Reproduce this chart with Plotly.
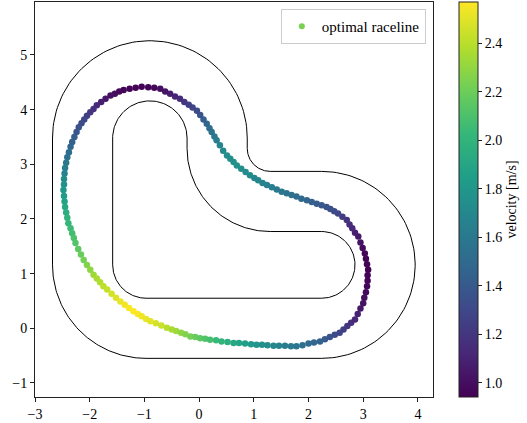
import numpy as np
import plotly.graph_objects as go

# ---------------- data: optimal raceline ----------------
raceline_x = [
    -1.05, -1.16, -1.27, -1.38, -1.46, -1.54, -1.62, -1.71, -1.79, -1.87,
    -1.93, -1.99, -2.05, -2.10, -2.15, -2.20, -2.24, -2.28, -2.32, -2.35,
    -2.38, -2.41, -2.43, -2.45, -2.46, -2.47, -2.47, -2.48, -2.47, -2.46,
    -2.45, -2.43, -2.41, -2.39, -2.35, -2.32, -2.29, -2.26, -2.21, -2.16,
    -2.11, -2.05, -1.99, -1.93, -1.87, -1.81, -1.75, -1.68, -1.60, -1.52,
    -1.44, -1.36, -1.28, -1.20, -1.12, -1.05, -0.97, -0.89, -0.79, -0.69,
    -0.59, -0.50, -0.42, -0.33, -0.25, -0.16, -0.07, 0.02, 0.11, 0.20,
    0.31, 0.41, 0.52, 0.63, 0.73, 0.84, 0.95, 1.05, 1.15, 1.25,
    1.36, 1.46, 1.57, 1.68, 1.78, 1.89, 2.00, 2.10, 2.21, 2.30,
    2.39, 2.48, 2.57, 2.64, 2.71, 2.78, 2.85, 2.90, 2.95, 3.00,
    3.02, 3.05, 3.07, 3.08, 3.08, 3.09, 3.07, 3.05, 3.03, 2.99,
    2.95, 2.91, 2.85, 2.80, 2.75, 2.70, 2.62, 2.54, 2.47, 2.40,
    2.33, 2.24, 2.15, 2.06, 1.97, 1.87, 1.78, 1.69, 1.60, 1.51,
    1.42, 1.33, 1.24, 1.16, 1.08, 1.01, 0.93, 0.85, 0.77, 0.69,
    0.63, 0.57, 0.51, 0.44, 0.38, 0.32, 0.28, 0.23, 0.19, 0.14,
    0.08, 0.02, -0.04, -0.12, -0.19, -0.27, -0.35, -0.44, -0.53, -0.62,
    -0.71, -0.82, -0.93,
]
raceline_y = [
    4.42, 4.40, 4.38, 4.36, 4.33, 4.29, 4.26, 4.20, 4.14, 4.08,
    4.01, 3.95, 3.89, 3.82, 3.75, 3.68, 3.59, 3.50, 3.41, 3.32,
    3.22, 3.13, 3.03, 2.93, 2.83, 2.73, 2.63, 2.53, 2.42, 2.32,
    2.22, 2.12, 2.02, 1.92, 1.83, 1.74, 1.65, 1.56, 1.45, 1.35,
    1.25, 1.16, 1.07, 0.98, 0.91, 0.84, 0.77, 0.71, 0.63, 0.56,
    0.49, 0.43, 0.37, 0.31, 0.26, 0.22, 0.17, 0.13, 0.09, 0.05,
    0.01, -0.02, -0.05, -0.08, -0.11, -0.15, -0.16, -0.18, -0.19, -0.21,
    -0.22, -0.24, -0.25, -0.27, -0.27, -0.28, -0.29, -0.30, -0.30, -0.31,
    -0.32, -0.32, -0.32, -0.33, -0.33, -0.31, -0.28, -0.26, -0.24, -0.20,
    -0.16, -0.12, -0.08, -0.02, 0.04, 0.10, 0.16, 0.26, 0.36, 0.46,
    0.56, 0.66, 0.77, 0.87, 0.97, 1.07, 1.17, 1.27, 1.37, 1.47,
    1.57, 1.68, 1.75, 1.83, 1.90, 1.98, 2.04, 2.10, 2.14, 2.18,
    2.22, 2.25, 2.28, 2.31, 2.34, 2.37, 2.41, 2.44, 2.47, 2.50,
    2.54, 2.58, 2.62, 2.66, 2.71, 2.75, 2.80, 2.86, 2.92, 2.98,
    3.04, 3.10, 3.16, 3.25, 3.35, 3.44, 3.51, 3.59, 3.66, 3.74,
    3.82, 3.90, 3.98, 4.04, 4.09, 4.14, 4.20, 4.24, 4.29, 4.33,
    4.38, 4.40, 4.41,
]
velocity = [
    0.95, 0.95, 0.95, 0.96, 0.97, 0.99, 1.01, 1.04, 1.08, 1.12,
    1.16, 1.20, 1.24, 1.28, 1.32, 1.35, 1.38, 1.42, 1.45, 1.48,
    1.52, 1.55, 1.59, 1.64, 1.68, 1.72, 1.76, 1.80, 1.84, 1.88,
    1.92, 1.95, 1.99, 2.02, 2.05, 2.07, 2.10, 2.12, 2.15, 2.19,
    2.22, 2.26, 2.29, 2.33, 2.36, 2.38, 2.41, 2.43, 2.46, 2.49,
    2.52, 2.54, 2.56, 2.57, 2.56, 2.54, 2.52, 2.50, 2.47, 2.44,
    2.40, 2.36, 2.33, 2.29, 2.26, 2.22, 2.19, 2.15, 2.12, 2.08,
    2.04, 2.00, 1.96, 1.92, 1.89, 1.85, 1.82, 1.78, 1.75, 1.73,
    1.70, 1.67, 1.64, 1.61, 1.58, 1.55, 1.51, 1.48, 1.45, 1.41,
    1.36, 1.32, 1.28, 1.24, 1.20, 1.16, 1.12, 1.09, 1.05, 1.02,
    1.00, 0.98, 0.97, 0.96, 0.95, 0.94, 0.95, 0.95, 0.96, 0.99,
    1.02, 1.05, 1.08, 1.12, 1.15, 1.18, 1.23, 1.28, 1.31, 1.33,
    1.36, 1.39, 1.41, 1.44, 1.46, 1.49, 1.51, 1.54, 1.56, 1.58,
    1.60, 1.63, 1.65, 1.67, 1.69, 1.70, 1.72, 1.73, 1.75, 1.76,
    1.76, 1.75, 1.74, 1.71, 1.68, 1.64, 1.60, 1.56, 1.52, 1.48,
    1.43, 1.37, 1.32, 1.28, 1.25, 1.21, 1.15, 1.11, 1.07, 1.03,
    1.00, 0.98, 0.96,
]
velocity_range = [0.941, 2.570]
colorbar_ticks = [1.0, 1.2, 1.4, 1.6, 1.8, 2.0, 2.2, 2.4]
x_ticks = [-3, -2, -1, 0, 1, 2, 3, 4]
y_ticks = [-1, 0, 1, 2, 3, 4, 5]

# ---------------- data: track geometry (arc centres, radii) ----------------
arc_centers = {"right": (2.24, 1.16), "s": (1.30, 3.29),
               "top": (-0.90, 3.48), "bottom_left": (-0.97, 1.16)}
outer_radii = {"right": 1.71, "s": 0.42, "top": 1.78, "bottom_left": 1.71}
inner_radii = {"right": 0.61, "s": 1.52, "top": 0.68, "bottom_left": 0.61}
arc_angles = {"right": (-90, 90), "s": (-90, -180), "top": (0, 180),
              "bottom_left": (180, 270)}
arc_order = ["right", "s", "top", "bottom_left"]


def boundary(radii):
    xs, ys = [], []
    for name in arc_order:
        cx, cy = arc_centers[name]
        a0, a1 = arc_angles[name]
        t = np.radians(np.linspace(a0, a1, 80))
        xs.extend(cx + radii[name] * np.cos(t))
        ys.extend(cy + radii[name] * np.sin(t))
    xs.append(xs[0])
    ys.append(ys[0])
    return xs, ys


outer_x, outer_y = boundary(outer_radii)
inner_x, inner_y = boundary(inner_radii)

FONT = "Liberation Serif"
AXC = "#222222"

fig = go.Figure()
for bx, by in [(outer_x, outer_y), (inner_x, inner_y)]:
    fig.add_trace(go.Scatter(x=bx, y=by, mode="lines",
                             line=dict(color="black", width=1),
                             showlegend=False, hoverinfo="skip"))

fig.add_trace(go.Scatter(
    x=raceline_x, y=raceline_y, mode="markers", showlegend=False,
    marker=dict(size=6.5, color=velocity, colorscale="Viridis",
                cmin=velocity_range[0], cmax=velocity_range[1],
                colorbar=dict(
                    thickness=19, thicknessmode="pixels",
                    len=1, lenmode="fraction", y=0.5, yanchor="middle",
                    x=1.065, xanchor="left", xpad=0, ypad=0,
                    outlinewidth=1, outlinecolor=AXC,
                    ticks="outside", ticklen=4, tickcolor=AXC,
                    tickvals=colorbar_ticks, tickformat=".1f",
                    tickfont=dict(family=FONT, size=14, color="black"),
                    title=dict(text="velocity [m/s]", side="right",
                               font=dict(family=FONT, size=14, color="black")),
                ))))

fig.add_trace(go.Scatter(x=[None], y=[None], mode="markers",
                         name="optimal raceline",
                         marker=dict(size=6, color="#7ad151")))

axis_common = dict(showgrid=False, zeroline=False, showline=True,
                   linecolor=AXC, linewidth=1, mirror=True,
                   ticks="outside", ticklen=4, tickcolor=AXC,
                   tickfont=dict(family=FONT, size=14, color="black"))

fig.update_layout(
    width=527, height=423,
    margin=dict(l=35, r=94, t=1, b=25),
    paper_bgcolor="white", plot_bgcolor="white",
    font=dict(family=FONT, size=14, color="black"),
    xaxis=dict(range=[-3.0, 4.276], tickvals=x_ticks, **axis_common),
    yaxis=dict(range=[-1.257, 5.969], tickvals=y_ticks, **axis_common),
    legend=dict(x=0.982, y=0.982, xanchor="right", yanchor="top",
                bgcolor="rgba(255,255,255,0.8)", bordercolor="#cccccc",
                borderwidth=1, font=dict(family=FONT, size=15)),
)

fig.write_html("out.html",
               config={"displayModeBar": False},
               post_script="document.body.style.margin='0';"
                           "document.body.style.overflow='hidden';")
